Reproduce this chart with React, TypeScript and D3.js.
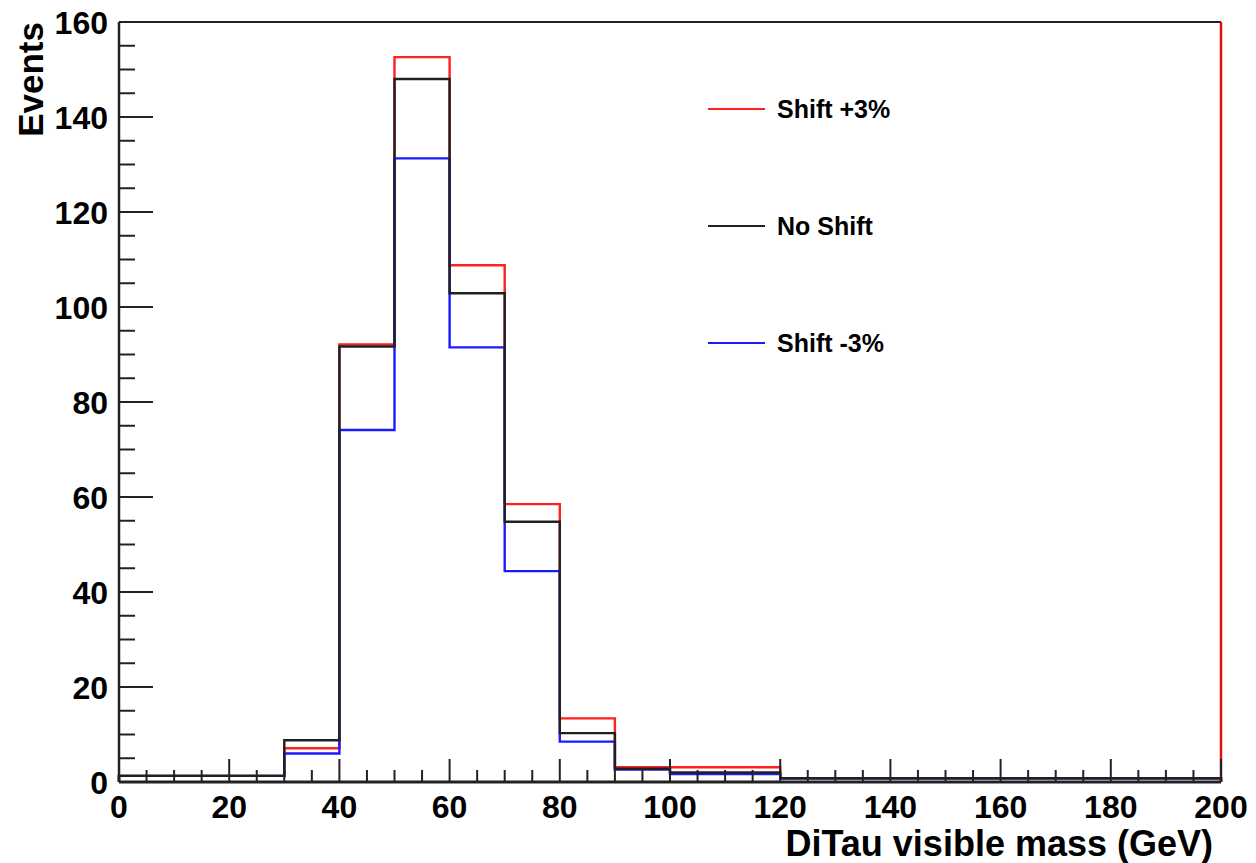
import React, { useRef, useEffect } from 'react';
import * as d3 from 'd3';

// bin lower edges (GeV), 10 GeV wide
const binEdges = [0, 10, 20, 30, 40, 50, 60, 70, 80, 90, 100, 110, 120, 130, 140, 150, 160, 170, 180, 190];
const noShift = [1.3, 1.3, 1.3, 8.8, 91.7, 148, 102.9, 54.8, 10.3, 2.8, 2.0, 2.0, 0.8, 0.8, 0.8, 0.8, 0.8, 0.8, 0.8, 0.8];
const shiftUp = [1.3, 1.3, 1.3, 7.1, 92.1, 152.6, 108.8, 58.5, 13.4, 3.1, 3.1, 3.1, 0.8, 0.8, 0.8, 0.8, 0.8, 0.8, 0.8, 0.8];
const shiftDown = [1.3, 1.3, 1.3, 6.0, 74.1, 131.3, 91.5, 44.4, 8.5, 2.6, 1.7, 1.7, 0.8, 0.8, 0.8, 0.8, 0.8, 0.8, 0.8, 0.8];
const binWidth = 10;

const legendItems = [
  { label: 'Shift +3%', color: '#ff2020' },
  { label: 'No Shift', color: '#202020' },
  { label: 'Shift -3%', color: '#1a1aff' },
];

const App = () => {
  const ref = useRef<SVGSVGElement>(null);

  useEffect(() => {
    if (!ref.current) return;
    const svg = d3.select(ref.current);
    svg.selectAll('*').remove();

    const margin = { top: 22, right: 35, bottom: 81, left: 119 };
    const W = 1256, H = 863;
    const width = W - margin.left - margin.right;
    const height = H - margin.top - margin.bottom;
    const font = "'Liberation Sans', Arial, Helvetica, sans-serif";

    const x = d3.scaleLinear().domain([0, 200]).range([0, width]);
    const y = d3.scaleLinear().domain([0, 160]).range([height, 0]);

    const g = svg.append('g').attr('transform', `translate(${margin.left},${margin.top})`);

    const stairs = (vals: number[]) => {
      const pts: [number, number][] = [[0, 0]];
      vals.forEach((v, i) => pts.push([binEdges[i], v]));
      pts.push([binEdges[binEdges.length - 1] + binWidth, vals[vals.length - 1]]);
      pts.push([binEdges[binEdges.length - 1] + binWidth, 0]);
      return pts;
    };
    const line = d3.line<[number, number]>()
      .x(d => x(d[0]))
      .y(d => y(d[1]))
      .curve(d3.curveStepAfter);

    // draw order: red, blue, black
    [
      { vals: shiftUp, color: legendItems[0].color },
      { vals: shiftDown, color: legendItems[2].color },
      { vals: noShift, color: legendItems[1].color },
    ].forEach(s => {
      g.append('path')
        .datum(stairs(s.vals))
        .attr('fill', 'none')
        .attr('stroke', s.color)
        .attr('stroke-width', 2.4)
        .attr('d', line);
    });

    // frame
    g.append('line').attr('x1', 0).attr('x2', width).attr('y1', 0).attr('y2', 0)
      .attr('stroke', '#222').attr('stroke-width', 2);
    g.append('line').attr('x1', width).attr('x2', width).attr('y1', 0).attr('y2', height)
      .attr('stroke', '#e01010').attr('stroke-width', 2.5);

    // y axis ticks (inward)
    const yMinor = d3.range(0, 161, 5);
    g.selectAll('.ytick')
      .data(yMinor)
      .enter()
      .append('line')
      .attr('x1', 0)
      .attr('x2', d => (d % 20 === 0 ? 34 : 16))
      .attr('y1', d => y(d))
      .attr('y2', d => y(d))
      .attr('stroke', '#222')
      .attr('stroke-width', 2);

    g.selectAll('.ylabel')
      .data(y.ticks(8))
      .enter()
      .append('text')
      .attr('x', -11)
      .attr('y', d => y(d))
      .attr('dy', '0.36em')
      .attr('text-anchor', 'end')
      .attr('font-family', font)
      .attr('font-weight', 'bold')
      .attr('font-size', 32)
      .text(d => d);

    // x axis ticks (inward)
    const xMinor = d3.range(0, 201, 5);
    g.selectAll('.xtick')
      .data(xMinor)
      .enter()
      .append('line')
      .attr('x1', d => x(d))
      .attr('x2', d => x(d))
      .attr('y1', height)
      .attr('y2', d => (d % 20 === 0 ? height - 23 : height - 12))
      .attr('stroke', '#222')
      .attr('stroke-width', 2);

    g.selectAll('.xlabel')
      .data(x.ticks(10))
      .enter()
      .append('text')
      .attr('x', d => x(d))
      .attr('y', height + 36)
      .attr('text-anchor', 'middle')
      .attr('font-family', font)
      .attr('font-weight', 'bold')
      .attr('font-size', 32)
      .text(d => d);

    // axis lines
    g.append('line').attr('x1', 0).attr('x2', 0).attr('y1', 0).attr('y2', height)
      .attr('stroke', '#222').attr('stroke-width', 2.5);
    g.append('line').attr('x1', 0).attr('x2', width).attr('y1', height).attr('y2', height)
      .attr('stroke', '#222').attr('stroke-width', 3);

    // axis titles
    svg.append('text')
      .attr('transform', `translate(${43},${margin.top}) rotate(-90)`)
      .attr('text-anchor', 'end')
      .attr('font-family', font)
      .attr('font-weight', 'bold')
      .attr('font-size', 35)
      .text('Events');

    svg.append('text')
      .attr('x', margin.left + width - 8)
      .attr('y', H - 7)
      .attr('text-anchor', 'end')
      .attr('font-family', font)
      .attr('font-weight', 'bold')
      .attr('font-size', 36)
      .text('DiTau visible mass (GeV)');

    // legend
    const legend = svg.append('g').attr('class', 'legend');
    const legendY = [109, 226, 343];
    legendItems.forEach((item, i) => {
      legend.append('line')
        .attr('x1', 708).attr('x2', 765)
        .attr('y1', legendY[i]).attr('y2', legendY[i])
        .attr('stroke', item.color)
        .attr('stroke-width', 2.2);
      legend.append('text')
        .attr('x', 777)
        .attr('y', legendY[i])
        .attr('dy', '0.36em')
        .attr('font-family', font)
        .attr('font-weight', 'bold')
        .attr('font-size', 25)
        .text(item.label);
    });
  }, []);

  return (
    <>
      <style>{'body{margin:0}'}</style>
      <svg ref={ref} width={1256} height={863} style={{ display: 'block', background: '#fff' }} />
    </>
  );
};

export default App;
